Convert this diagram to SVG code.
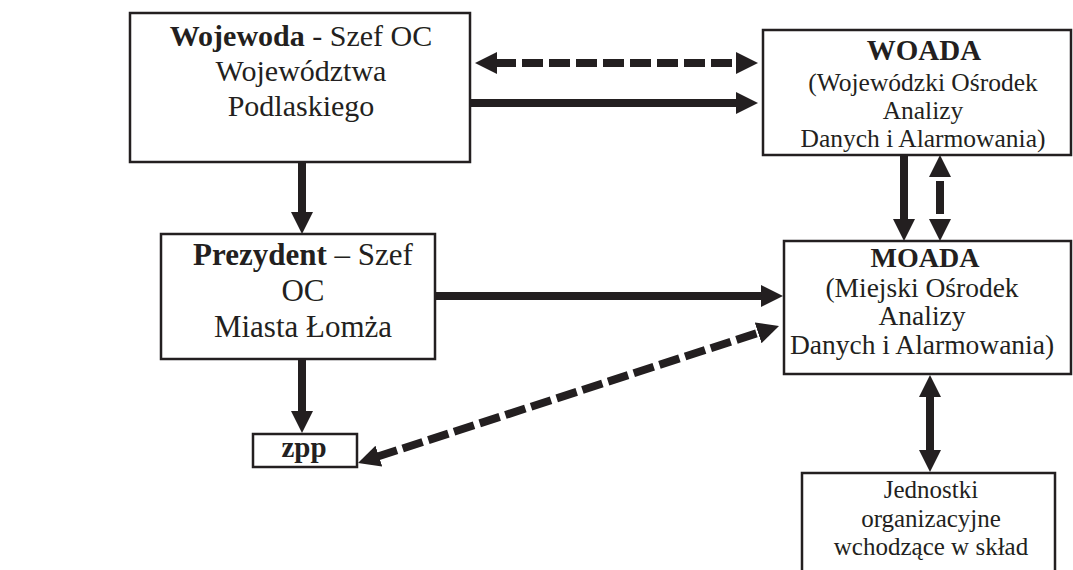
<svg xmlns="http://www.w3.org/2000/svg" width="1073" height="570" viewBox="0 0 1073 570">
<style>
.box{fill:#fff;stroke:#231f20;stroke-width:2.5}
.t{font-family:"Liberation Serif","Times New Roman",serif;fill:#231f20;text-anchor:middle}
.b{font-weight:bold}
.ln{stroke:#231f20;stroke-width:8;fill:none}
.dash{stroke-dasharray:21 6}
</style>
<defs>
<marker id="ah" markerUnits="userSpaceOnUse" markerWidth="24" markerHeight="22" refX="2" refY="11" orient="auto-start-reverse">
<path d="M0,0 L22,11 L0,22 z" fill="#231f20"/>
</marker>
</defs>
<rect width="1073" height="570" fill="#fff"/>
<g id="wojewoda">
<rect class="box" x="130" y="13" width="340" height="149"/>
<text class="t" x="301" y="46" font-size="30"><tspan class="b">Wojewoda</tspan> - Szef OC</text>
<text class="t" x="301" y="81" font-size="30">Województwa</text>
<text class="t" x="301" y="116" font-size="30">Podlaskiego</text>
</g>
<g id="woada">
<rect class="box" x="763" y="30" width="308" height="125"/>
<text class="t b" x="924" y="60" font-size="29">WOADA</text>
<text class="t" x="923" y="91" font-size="25.5">(Wojewódzki Ośrodek</text>
<text class="t" x="923" y="119" font-size="25.5">Analizy</text>
<text class="t" x="923" y="147" font-size="25.5">Danych i Alarmowania)</text>
</g>
<g id="prezydent">
<rect class="box" x="161" y="234" width="274" height="125"/>
<text class="t" x="303" y="265" font-size="31"><tspan class="b">Prezydent</tspan> – Szef</text>
<text class="t" x="303" y="301" font-size="31">OC</text>
<text class="t" x="303" y="337" font-size="31">Miasta Łomża</text>
</g>
<g id="moada">
<rect class="box" x="784" y="241" width="287" height="133"/>
<text class="t b" x="925" y="267" font-size="28">MOADA</text>
<text class="t" x="922" y="297" font-size="27.5">(Miejski Ośrodek</text>
<text class="t" x="922" y="325" font-size="27.5">Analizy</text>
<text class="t" x="922" y="354" font-size="27.5">Danych i Alarmowania)</text>
</g>
<g id="zpp">
<rect class="box" x="253" y="434" width="104" height="33"/>
<text class="t b" x="304" y="457" font-size="29">zpp</text>
</g>
<g id="jednostki">
<rect class="box" x="802" y="473" width="253" height="110"/>
<text class="t" x="931" y="498" font-size="25">Jednostki</text>
<text class="t" x="931" y="527" font-size="25">organizacyjne</text>
<text class="t" x="931" y="555" font-size="25">wchodzące w skład</text>
</g>
<g id="connectors">
<line class="ln dash" x1="495" y1="63" x2="738" y2="63" marker-start="url(#ah)" marker-end="url(#ah)"/>
<line class="ln" x1="471" y1="103" x2="738" y2="103" marker-end="url(#ah)"/>
<line class="ln" x1="302" y1="163" x2="302" y2="214" marker-end="url(#ah)"/>
<line class="ln" x1="302" y1="360" x2="302" y2="413" marker-end="url(#ah)"/>
<line class="ln" x1="436" y1="296" x2="763" y2="296" marker-end="url(#ah)"/>
<line class="ln dash" x1="377" y1="456.8" x2="760" y2="332.2" marker-start="url(#ah)" marker-end="url(#ah)"/>
<line class="ln" x1="904" y1="156" x2="904" y2="221" marker-end="url(#ah)"/>
<line class="ln" x1="940" y1="175" x2="940" y2="221" stroke-dasharray="0 6 33 100" marker-start="url(#ah)" marker-end="url(#ah)"/>
<line class="ln" x1="930" y1="395" x2="930" y2="452" marker-start="url(#ah)" marker-end="url(#ah)"/>
</g>
</svg>
